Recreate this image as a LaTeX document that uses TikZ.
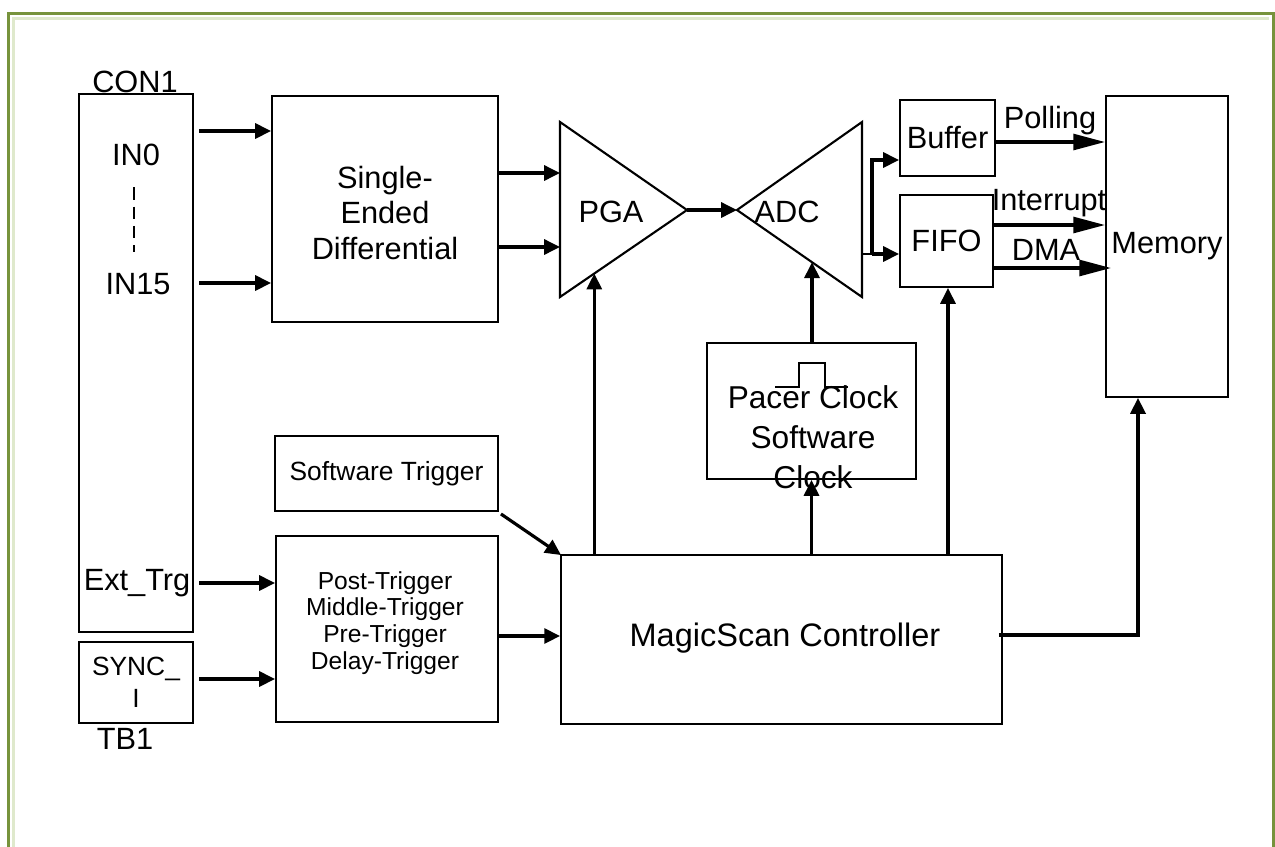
\documentclass[tikz,border=0pt]{standalone}
\usepackage{fontspec}
\setmainfont{Liberation Sans}
\usetikzlibrary{arrows.meta,calc}
\definecolor{frameolive}{HTML}{77933C}
\definecolor{framepale}{HTML}{DFE9CC}
\begin{document}
\begin{tikzpicture}[x=0.02cm, y=-0.02cm,
  box/.style={draw, line width=1.1pt, inner sep=0pt, align=center,
    font=\fontsize{17.5}{20}\selectfont},
  lbl/.style={inner sep=0pt, align=center, font=\fontsize{17.5}{20}\selectfont},
  tri/.style={draw, line width=1.2pt, line join=miter},
  wire/.style={line width=1.4pt},
  arr/.style={line width=1.8pt, -{Triangle[length=9pt,width=8.5pt]}},
  longarr/.style={line width=1.8pt, -{Triangle[length=18pt,width=9pt]}},
  ]
  \clip (0,0) rectangle (1275,846);
  % frame
  \draw[frameolive, line width=1.7pt] (8.5,870) |- (1273,13.5) -- (1273,870);
  \draw[framepale, line width=1.9pt] (13.5,870) |- (1269,18.5);

  % connectors on the left
  \node[box, minimum width=2.28cm, minimum height=10.76cm] (con1) at (136,363) {};
  \node[lbl, anchor=south] (con1 name) at (135,93) {CON1};
  \node[lbl] (in0) at (136,155) {IN0};
  \node[lbl] (in15) at (138,284) {IN15};
  \node[lbl] (exttrg) at (137,583) {Ext\_Trg};
  \draw[line width=1.4pt, dash pattern=on 7pt off 4pt] (in0.south) ++(-2,21) coordinate (dash top)
    -- ($(in15.north)+(-4,-21)$);
  \node[box, minimum width=2.28cm, minimum height=1.62cm,
    font=\fontsize{15}{18}\selectfont] (tb1) at (136,682.5) {SYNC\_\\I};
  \node[lbl, anchor=north] (tb1 name) at (125,728) {TB1};

  % analog path
  \node[box, minimum width=4.52cm, minimum height=4.52cm] (sed) at (385,209) {};
  \node[lbl] (sed text) at (385,213) {Single-\\Ended\\Differential};
  \draw[tri] (560,122) coordinate (pga top) -- (687,210) coordinate (pga out)
    -- (560,297) coordinate (pga bot) -- cycle;
  \node[lbl] (pga) at (611,212) {PGA};
  \draw[tri] (862,122) coordinate (adc top) -- (737,210) coordinate (adc in)
    -- (862,297) coordinate (adc bot) -- cycle;
  \node[lbl] (adc) at (787,212) {ADC};

  \node[box, minimum width=1.9cm, minimum height=1.52cm] (buffer) at (947.5,138) {Buffer};
  \node[box, minimum width=1.86cm, minimum height=1.84cm] (fifo) at (946.5,241) {FIFO};
  \node[box, minimum width=2.44cm, minimum height=6.02cm] (memory) at (1167,246.5) {Memory};

  % clock and triggers
  \node[box, minimum width=4.18cm, minimum height=2.72cm] (pacer) at (811.5,411) {};
  \node[lbl, font=\fontsize{18}{22.7}\selectfont] (pacer text) at (813,437)
    {Pacer Clock\\Software\\Clock};
  \draw[line width=1.3pt] (775,387) -| (799,363) -| (825,387) -- (848,387);
  \node[box, minimum width=4.46cm, minimum height=1.5cm,
    font=\fontsize{15}{18}\selectfont] (swtrig) at (386.5,473.5) {Software Trigger};
  \node[box, minimum width=4.44cm, minimum height=3.72cm] (trig) at (387,629) {};
  \node[lbl, font=\fontsize{14}{15.3}\selectfont] (trig text) at (385,623)
    {Post-Trigger\\Middle-Trigger\\Pre-Trigger\\Delay-Trigger};
  \node[box, minimum width=8.82cm, minimum height=3.38cm] (ctrl) at (781.5,639.5) {};
  \node[lbl, font=\fontsize{18.5}{22}\selectfont] (ctrl text) at (785,638) {MagicScan Controller};

  % signal arrows
  \coordinate (a in0) at (199,131);
  \coordinate (a in15) at (199,283);
  \draw[arr] (a in0) -- (a in0 -| sed.west);
  \draw[arr] (a in15) -- (a in15 -| sed.west);
  \draw[arr] (sed.east |- 0,173) -- (pga top |- 0,173);
  \draw[arr] (sed.east |- 0,247) -- (pga top |- 0,247);
  \draw[arr] (pga out) -- (adc in);
  \coordinate (split) at (872,254);
  \draw[wire] (adc top |- split) -- (split);
  \draw[arr] (split) |- (buffer.west |- 0,160);
  \draw[arr] (split) -- (split -| fifo.west);
  \draw[longarr] (buffer.east |- 0,142) -- (memory.west |- 0,142);
  \node[lbl] (polling) at (1050,121) {Polling};
  \draw[longarr] (fifo.east |- 0,225) -- (memory.west |- 0,225);
  \node[lbl] (interrupt) at (1049,203) {Interrupt};
  \draw[longarr] (fifo.east |- 0,268) -- ($(memory.west |- 0,268)+(6,0)$);
  \node[lbl] (dma) at (1046,250) {DMA};

  % control arrows
  \coordinate (pga in) at ($(pga bot)!0.27!(pga out)$);
  \coordinate (adc clk) at ($(adc in)!0.6!(adc bot)$);
  \draw[arr] (ctrl.north -| pga in) -- (pga in);
  \draw[arr] (ctrl.north -| pacer.south) -- (pacer.south);
  \draw[arr] (pacer.north -| adc clk) -- (adc clk);
  \draw[arr] (ctrl.north -| fifo.south) ++(1.5,0) -- ($(fifo.south)+(1.5,0)$);
  \draw[arr, line width=2pt] ($(ctrl.east)+(-4,-4.5)$) -| ($(memory.south)+(-29,0)$);
  \draw[arr] (swtrig.south east) ++(2,2) -- ($(ctrl.north west)+(1,1)$);
  \draw[arr] (199,583) coordinate (a ext) -- (a ext -| trig.west);
  \draw[arr] (199,679) coordinate (a sync) -- (a sync -| trig.west);
  \draw[arr] (trig.east |- 0,636) -- (ctrl.west |- 0,636);
\end{tikzpicture}
\end{document}
